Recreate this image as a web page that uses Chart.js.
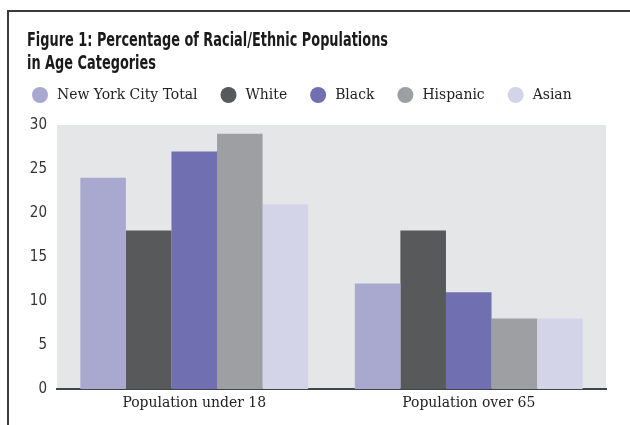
<!DOCTYPE html>
<html>
<head>
<meta charset="utf-8">
<script src="https://cdn.jsdelivr.net/npm/chart.js@4"></script>
<style>
  html, body { margin: 0; padding: 0; background: #fff; }
  #wrap { position: relative; width: 630px; height: 425px; overflow: hidden; }
  #frame {
    position: absolute; left: 7px; top: 10px; width: 640px; height: 430px;
    border-top: 2px solid #3a3a3a; border-left: 2px solid #3a3a3a;
  }
  canvas { position: absolute; left: 0; top: 0; }
</style>
</head>
<body>
<div id="wrap">
  <div id="frame"></div>
  <canvas id="grafico" width="630" height="425"></canvas>
</div>
<script>
// categorias e séries
const categorias = ["Population under 18", "Population over 65"];
const nycTotal = [24, 12];
const white = [18, 18];
const black = [27, 11];
const hispanic = [29, 8];
const asian = [21, 8];
const yTicks = [0, 5, 10, 15, 20, 25, 30];
const titulo = ["Figure 1: Percentage of Racial/Ethnic Populations", "in Age Categories"];

const cores = {
  nyc: "#a9a9d0",
  white: "#58595b",
  black: "#706fb1",
  hispanic: "#9e9fa3",
  asian: "#d4d4e8"
};

const fonteSerif = "'DejaVu Serif Condensed', 'DejaVu Serif', serif";
const fonteCond = "'DejaVu Sans Condensed', 'DejaVu Sans', sans-serif";

// fundo cinzento da área do gráfico
const fundoArea = {
  id: "fundoArea",
  beforeDraw(chart) {
    const { ctx, chartArea: a } = chart;
    ctx.save();
    ctx.fillStyle = "#e5e6e8";
    ctx.fillRect(a.left, a.top, a.right - a.left, a.bottom - a.top);
    ctx.restore();
  }
};

// título estreito em duas linhas + legenda com círculos
const cabecalho = {
  id: "cabecalho",
  afterDraw(chart) {
    const ctx = chart.ctx;
    ctx.save();
    ctx.font = "bold 20px " + fonteCond;
    ctx.fillStyle = "#1a1a1a";
    ctx.textBaseline = "alphabetic";
    const escala = 361 / ctx.measureText(titulo[0]).width;
    titulo.forEach((linha, i) => {
      ctx.save();
      ctx.translate(27, 46 + i * 23);
      ctx.scale(escala, 1);
      ctx.fillText(linha, 0, 0);
      ctx.restore();
    });

    const y = 95;
    let x = 32;
    ctx.font = "15.5px " + fonteSerif;
    ctx.textBaseline = "middle";
    chart.data.datasets.forEach(ds => {
      ctx.fillStyle = ds.backgroundColor;
      ctx.beginPath();
      ctx.arc(x + 8, y, 8, 0, Math.PI * 2);
      ctx.fill();
      ctx.fillStyle = "#222";
      ctx.fillText(ds.label, x + 25, y);
      x += 25 + ctx.measureText(ds.label).width + 23;
    });
    ctx.restore();
  }
};

const ctx = document.getElementById("grafico").getContext("2d");

new Chart(ctx, {
  type: "bar",
  data: {
    labels: categorias,
    datasets: [
      { label: "New York City Total", data: nycTotal, backgroundColor: cores.nyc },
      { label: "White", data: white, backgroundColor: cores.white },
      { label: "Black", data: black, backgroundColor: cores.black },
      { label: "Hispanic", data: hispanic, backgroundColor: cores.hispanic },
      { label: "Asian", data: asian, backgroundColor: cores.asian }
    ]
  },
  options: {
    responsive: false,
    animation: false,
    categoryPercentage: 0.83,
    barPercentage: 1,
    layout: { padding: { left: 0, right: 24, top: 125, bottom: 0 } },
    plugins: {
      legend: { display: false },
      tooltip: { enabled: false },
      title: { display: false }
    },
    scales: {
      x: {
        grid: { display: false, drawTicks: false },
        border: { display: true, color: "#444", width: 2 },
        ticks: {
          color: "#222",
          padding: 5,
          font: { family: fonteSerif, size: 15.5 }
        },
        afterFit(scale) { scale.height = 36; }
      },
      y: {
        min: 0,
        max: 30,
        grid: { display: false, drawTicks: false },
        border: { display: false },
        afterBuildTicks(scale) { scale.ticks = yTicks.map(v => ({ value: v })); },
        ticks: {
          color: "#333",
          padding: 10,
          font: { family: fonteCond, size: 15 }
        },
        afterFit(scale) { scale.width = 57; }
      }
    }
  },
  plugins: [fundoArea, cabecalho]
});
</script>
</body>
</html>
